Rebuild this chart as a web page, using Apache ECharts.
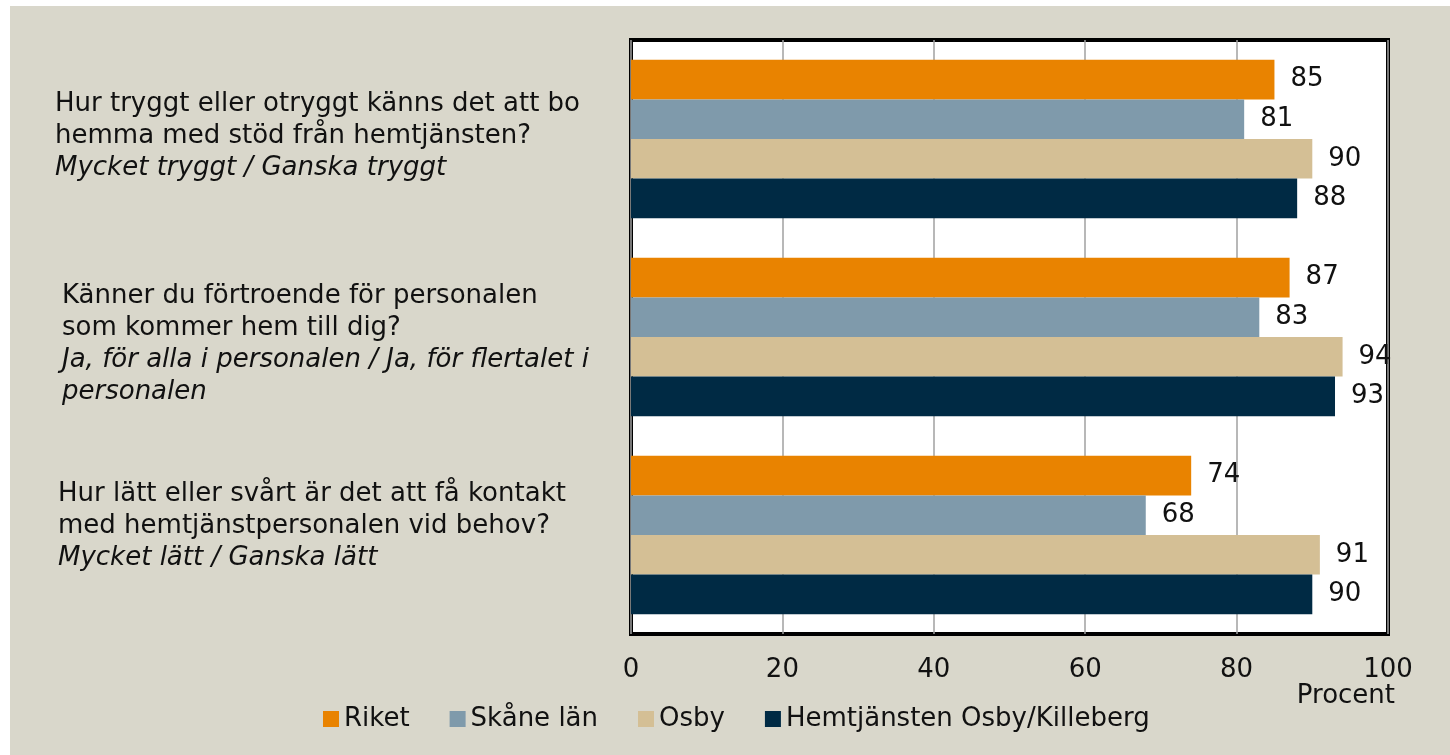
<!DOCTYPE html>
<html>
<head>
<meta charset="utf-8">
<script src="https://cdn.jsdelivr.net/npm/echarts@6/dist/echarts.min.js"></script>
<style>
  html, body { margin: 0; padding: 0; background: #ffffff; }
  #chart { position: absolute; left: 10px; top: 6px; width: 1440px; height: 749px; }
</style>
</head>
<body>
<div id="chart"></div>
<script>
// ---- data ----
const questions = [
  "Hur tryggt eller otryggt känns det att bo\nhemma med stöd från hemtjänsten?",
  "Känner du förtroende för personalen\nsom kommer hem till dig?",
  "Hur lätt eller svårt är det att få kontakt\nmed hemtjänstpersonalen vid behov?"
];
const answers = [
  "Mycket tryggt / Ganska tryggt",
  "Ja, för alla i personalen / Ja, för flertalet i\npersonalen",
  "Mycket lätt / Ganska lätt"
];
const seriesNames = ["Riket", "Skåne län", "Osby", "Hemtjänsten Osby/Killeberg"];
const riket = [85, 87, 74];
const skane = [81, 83, 68];
const osby = [90, 94, 91];
const hemtjansten = [88, 93, 90];
const xTicks = [0, 20, 40, 60, 80, 100];
const axisName = "Procent";

// ---- styles ----
const colors = ["#e98300", "#7f9aab", "#d4bf95", "#002a44"];
const FONT = "DejaVu Sans";
const values = [riket, skane, osby, hemtjansten];
// per-category label nudges: [left indent, leading spacer height, trailing spacer height]
const labelNudge = [[0, 0, 6], [7, 16, 0], [3, 0, 18]];

const rich = {};
labelNudge.forEach((n, i) => {
  const base = { fontFamily: FONT, fontSize: 26, lineHeight: 32, color: '#111', padding: [0, 0, 0, n[0]] };
  rich['q' + i] = Object.assign({}, base);
  rich['a' + i] = Object.assign({}, base, { fontStyle: 'italic' });
  rich['top' + i] = { fontSize: 2, lineHeight: n[1] || 1, height: n[1] || 1 };
  rich['bot' + i] = { fontSize: 2, lineHeight: n[2] || 1, height: n[2] || 1 };
});

const chart = echarts.init(document.getElementById('chart'));
const option = {
  backgroundColor: '#d9d7cb',
  animation: false,
  textStyle: { fontFamily: FONT, color: '#111' },
  grid: {
    left: 621, right: 62, top: 34, bottom: 121,
    show: true, backgroundColor: '#ffffff', borderColor: '#000000', borderWidth: 4
  },
  legend: {
    left: 308, top: 695,
    itemWidth: 16, itemHeight: 16, itemGap: 40,
    icon: 'rect',
    textStyle: { fontFamily: FONT, fontSize: 26, color: '#111' },
    data: seriesNames
  },
  xAxis: {
    type: 'value', min: xTicks[0], max: xTicks[xTicks.length - 1], interval: 20,
    axisLine: { show: false }, axisTick: { show: false },
    splitLine: { show: true, lineStyle: { color: '#a0a0a0', width: 1.5 } },
    axisLabel: { fontFamily: FONT, fontSize: 26, color: '#111', margin: 23 },
    name: axisName, nameLocation: 'end', nameGap: 7,
    nameTextStyle: { fontFamily: FONT, fontSize: 26, color: '#111', align: 'right', verticalAlign: 'top', padding: [49, 0, 0, 0] }
  },
  yAxis: {
    type: 'category', inverse: true, data: questions,
    axisLine: { show: false }, axisTick: { show: false },
    axisLabel: {
      margin: 576, align: 'left',
      formatter: function (val, idx) {
        const q = val.split('\n').map(s => '{q' + idx + '|' + s + '}');
        const a = answers[idx].split('\n').map(s => '{a' + idx + '|' + s + '}');
        return ['{top' + idx + '| }'].concat(q, a, ['{bot' + idx + '| }']).join('\n');
      },
      rich: rich
    }
  },
  series: seriesNames.map((name, i) => ({
    name: name, type: 'bar', data: values[i],
    barCategoryGap: '20%', barGap: '0%',
    itemStyle: { color: colors[i] },
    label: { show: true, position: 'right', distance: 16, fontFamily: FONT, fontSize: 26, color: '#111' }
  }))
};
chart.setOption(option);
</script>
</body>
</html>
